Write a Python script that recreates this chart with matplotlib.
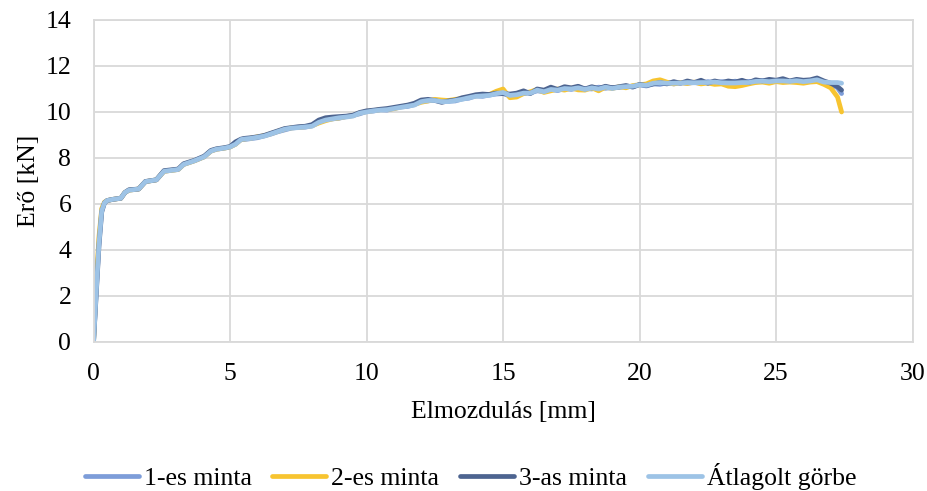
import matplotlib
matplotlib.use("Agg")
import matplotlib.pyplot as plt

plt.rcParams['font.family'] = ['Liberation Serif', 'DejaVu Serif']

# Displacement [mm] shared by all curves
x_mm = [0, 0.1, 0.2, 0.3, 0.4, 0.5, 0.7, 1.0, 1.15, 1.3,
        1.65, 1.9, 2.3, 2.58, 3.1, 3.3, 3.7, 4.05, 4.3, 4.5,
        4.8, 5.0, 5.2, 5.4,
        5.5, 5.75, 6.0, 6.25, 6.5, 6.75, 7.0, 7.25, 7.5, 7.75,
        8.0, 8.25, 8.5, 8.75, 9.0, 9.25, 9.5, 9.75, 10.0, 10.25,
        10.5, 10.75, 11.0, 11.25, 11.5, 11.75, 12.0, 12.25, 12.5, 12.75,
        13.0, 13.25, 13.5, 13.75, 14.0, 14.25, 14.5, 14.75, 15.0, 15.25,
        15.5, 15.75, 16.0, 16.25, 16.5, 16.75, 17.0, 17.25, 17.5, 17.75,
        18.0, 18.25, 18.5, 18.75, 19.0, 19.25, 19.5, 19.75, 20.0, 20.25,
        20.5, 20.75, 21.0, 21.25, 21.5, 21.75, 22.0, 22.25, 22.5, 22.75,
        23.0, 23.25, 23.5, 23.75, 24.0, 24.25, 24.5, 24.75, 25.0, 25.25,
        25.5, 25.75, 26.0, 26.25, 26.5, 26.75, 27.0, 27.25, 27.4]

# Force [kN]
minta_1 = [0, 2.3, 4.4, 5.75, 6.05, 6.15, 6.2, 6.25, 6.5, 6.6,
           6.65, 6.97, 7.05, 7.42, 7.5, 7.72, 7.88, 8.05, 8.3, 8.38,
           8.43, 8.48, 8.6, 8.8,
           8.80, 8.84, 8.88, 8.96, 9.04, 9.14, 9.22, 9.30, 9.33, 9.34,
           9.40, 9.55, 9.68, 9.70, 9.73, 9.80, 9.85, 9.92, 10.02, 10.04,
           10.10, 10.08, 10.16, 10.22, 10.24, 10.32, 10.47, 10.48, 10.52, 10.44,
           10.47, 10.48, 10.57, 10.60, 10.70, 10.68, 10.74, 10.78, 10.80, 10.70,
           10.78, 10.80, 10.83, 10.92, 10.88, 10.98, 10.93, 11.02, 10.98, 11.05,
           11.02, 11.00, 11.08, 11.03, 11.07, 11.06, 11.12, 11.10, 11.18, 11.13,
           11.22, 11.20, 11.27, 11.22, 11.27, 11.25, 11.28, 11.25, 11.32, 11.28,
           11.32, 11.28, 11.34, 11.28, 11.33, 11.30, 11.37, 11.30, 11.36, 11.32,
           11.33, 11.38, 11.30, 11.36, 11.40, 11.30, 11.22, 11.05, 10.80]

minta_2 = [0, 2.6, 4.6, 5.8, 6.08, 6.15, 6.2, 6.25, 6.5, 6.6,
           6.65, 6.97, 7.05, 7.42, 7.5, 7.72, 7.88, 8.05, 8.3, 8.38,
           8.43, 8.48, 8.6, 8.8,
           8.82, 8.86, 8.92, 8.97, 9.06, 9.16, 9.26, 9.31, 9.33, 9.36,
           9.40, 9.52, 9.62, 9.70, 9.74, 9.80, 9.84, 9.96, 10.02, 10.06,
           10.10, 10.12, 10.14, 10.22, 10.28, 10.33, 10.42, 10.48, 10.55, 10.52,
           10.50, 10.55, 10.58, 10.65, 10.70, 10.74, 10.76, 10.90, 11.00, 10.62,
           10.65, 10.80, 10.88, 10.98, 10.85, 10.92, 11.00, 10.95, 11.04, 10.96,
           10.95, 11.05, 10.92, 11.08, 11.02, 11.10, 11.05, 11.15, 11.18, 11.22,
           11.35, 11.40, 11.30, 11.22, 11.28, 11.24, 11.30, 11.22, 11.26, 11.20,
           11.22, 11.12, 11.10, 11.15, 11.22, 11.28, 11.30, 11.25, 11.32, 11.28,
           11.30, 11.28, 11.25, 11.30, 11.32, 11.20, 11.05, 10.65, 10.00]

minta_3 = [0, 2.1, 4.2, 5.65, 6.05, 6.15, 6.2, 6.25, 6.5, 6.62,
           6.65, 6.98, 7.05, 7.45, 7.52, 7.75, 7.9, 8.08, 8.33, 8.4,
           8.45, 8.5, 8.7, 8.82,
           8.85, 8.88, 8.92, 8.98, 9.08, 9.18, 9.28, 9.32, 9.36, 9.38,
           9.45, 9.65, 9.75, 9.78, 9.80, 9.82, 9.86, 9.98, 10.05, 10.08,
           10.12, 10.15, 10.20, 10.25, 10.30, 10.38, 10.52, 10.55, 10.50, 10.42,
           10.48, 10.52, 10.62, 10.68, 10.75, 10.78, 10.76, 10.82, 10.80, 10.78,
           10.82, 10.92, 10.80, 11.00, 10.95, 11.08, 10.98, 11.10, 11.05, 11.12,
           11.00, 11.10, 11.02, 11.12, 11.05, 11.10, 11.15, 11.08, 11.20, 11.15,
           11.22, 11.28, 11.22, 11.32, 11.25, 11.35, 11.28, 11.38, 11.25, 11.35,
           11.28, 11.35, 11.30, 11.38, 11.28, 11.40, 11.35, 11.42, 11.38, 11.45,
           11.35, 11.42, 11.38, 11.40, 11.48, 11.35, 11.25, 11.10, 10.95]

atlag = [0, 2.2, 4.3, 5.7, 6.05, 6.15, 6.2, 6.25, 6.5, 6.6,
         6.65, 6.97, 7.05, 7.42, 7.5, 7.72, 7.88, 8.05, 8.3, 8.38,
         8.43, 8.48, 8.6, 8.8,
         8.82, 8.85, 8.90, 8.95, 9.05, 9.15, 9.25, 9.30, 9.32, 9.35,
         9.38, 9.55, 9.65, 9.70, 9.75, 9.78, 9.82, 9.95, 10.00, 10.05,
         10.08, 10.10, 10.15, 10.20, 10.25, 10.30, 10.45, 10.50, 10.50, 10.45,
         10.45, 10.50, 10.55, 10.62, 10.68, 10.70, 10.72, 10.80, 10.85, 10.72,
         10.75, 10.82, 10.82, 10.95, 10.88, 10.98, 10.95, 11.02, 11.00, 11.05,
         10.98, 11.05, 11.00, 11.08, 11.02, 11.08, 11.10, 11.12, 11.18, 11.16,
         11.25, 11.28, 11.25, 11.25, 11.26, 11.28, 11.27, 11.28, 11.28, 11.30,
         11.27, 11.26, 11.26, 11.28, 11.28, 11.33, 11.34, 11.32, 11.35, 11.35,
         11.33, 11.36, 11.32, 11.35, 11.40, 11.30, 11.28, 11.28, 11.25]

series_labels = ['1-es minta', '2-es minta', '3-as minta', 'Átlagolt görbe']
series_colors = ['#7D9DD9', '#F7C430', '#4D6490', '#9DC3E6']
x_ticks = [0, 5, 10, 15, 20, 25, 30]
y_ticks = [0, 2, 4, 6, 8, 10, 12, 14]

fig = plt.figure(figsize=(9.28, 4.91), dpi=100)
ax = fig.add_axes([0.1008, 0.3035, 0.8826, 0.6558])

for ys, lab, col in zip([minta_1, minta_2, minta_3, atlag], series_labels, series_colors):
    ax.plot(x_mm, ys, color=col, lw=3.4, label=lab, solid_capstyle='round',
            solid_joinstyle='round')

ax.set_xlim(0, 30)
ax.set_ylim(0, 14)
ax.set_xticks(x_ticks)
ax.set_yticks(y_ticks)
ax.grid(True, color='#D9D9D9', lw=1.3)
ax.set_axisbelow(True)
for s in ax.spines.values():
    s.set_color('#D9D9D9')
    s.set_linewidth(1.3)
ax.tick_params(length=0, labelsize=18.5, colors='black')
ax.tick_params(axis='x', pad=15)
ax.tick_params(axis='y', pad=16)

ax.set_xlabel('Elmozdulás [mm]', fontsize=18.5, labelpad=12)
ax.set_ylabel('Erő [kN]', fontsize=18.5, labelpad=4)

fig.legend(loc='center', bbox_to_anchor=(0.507, 0.029), ncol=4, frameon=False,
           fontsize=18.5, handlelength=2.1, handletextpad=0.2, columnspacing=0.8)

fig.savefig('out.png', dpi=100)
